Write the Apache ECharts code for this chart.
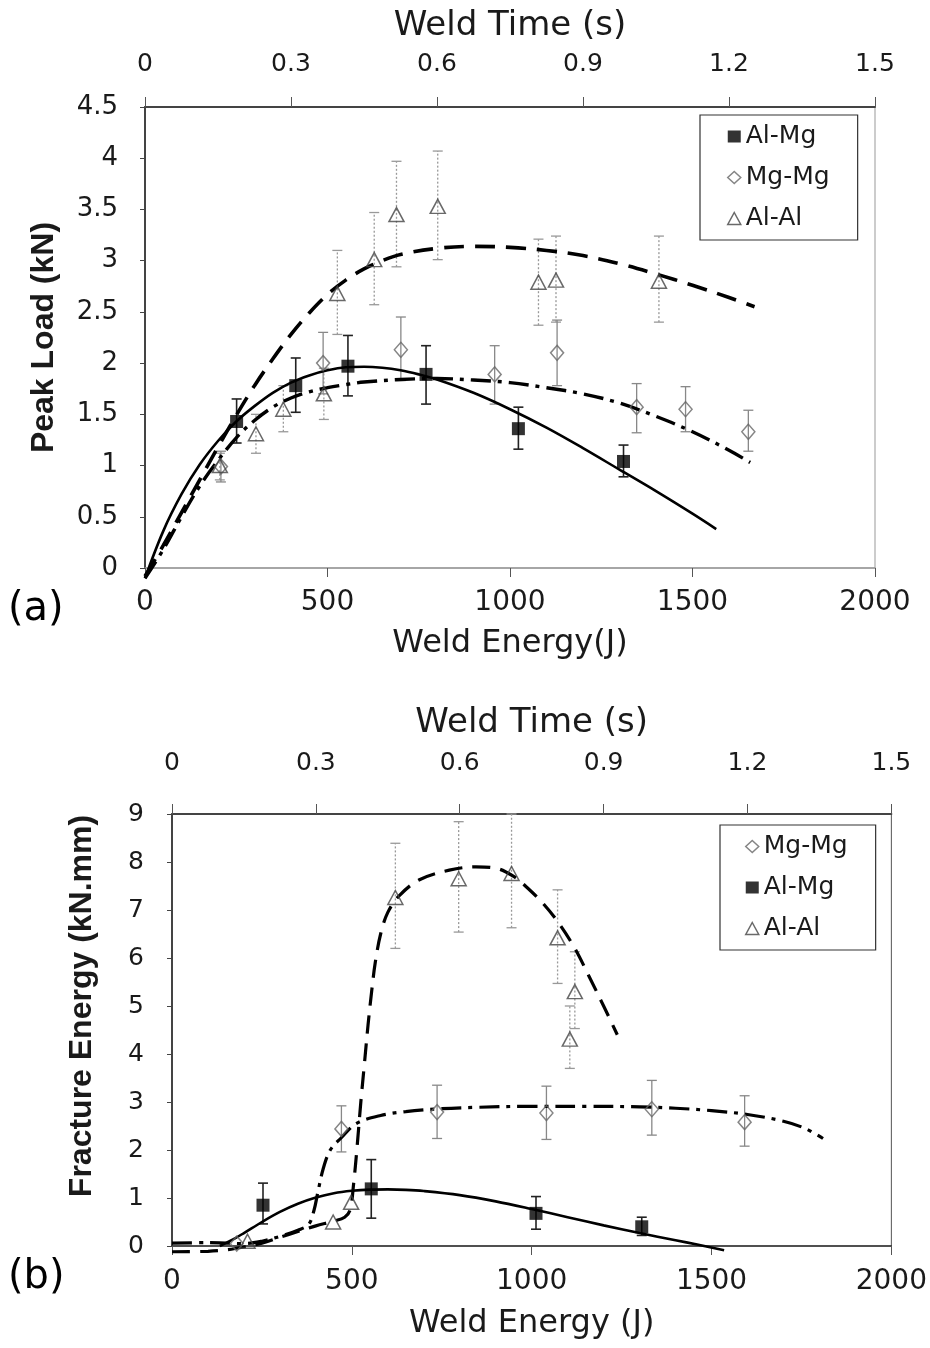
<!DOCTYPE html>
<html><head><meta charset="utf-8">
<script src="https://cdn.jsdelivr.net/npm/echarts@6/dist/echarts.min.js"></script>
<style>html,body{margin:0;padding:0;background:#fff}#c{width:930px;height:1348px}</style>
</head><body><div id="c"></div>
<script>
// ---------- Panel (a): Peak Load ----------
const almgA_E  = [251, 413, 556, 770, 1023, 1311];
const almgA_y  = [1.43, 1.78, 1.97, 1.89, 1.36, 1.04];
const almgA_lo = [1.22, 1.52, 1.68, 1.60, 1.16, 0.89];
const almgA_hi = [1.65, 2.05, 2.27, 2.17, 1.57, 1.20];

const mgmgA_E  = [208, 488, 701, 958, 1129, 1347, 1481, 1653];
const mgmgA_y  = [0.99, 2.00, 2.13, 1.89, 2.10, 1.57, 1.55, 1.33];
const mgmgA_lo = [0.84, 1.70, 1.83, 1.60, 1.78, 1.32, 1.33, 1.14];
const mgmgA_hi = [1.14, 2.30, 2.45, 2.17, 2.42, 1.80, 1.77, 1.54];

const alalA_E  = [205, 304, 379, 490, 527, 628, 689, 802, 1078, 1126, 1408];
const alalA_y  = [1.00, 1.31, 1.55, 1.70, 2.68, 3.01, 3.45, 3.53, 2.79, 2.81, 2.80];
const alalA_lo = [0.86, 1.12, 1.33, 1.45, 2.28, 2.57, 2.94, 3.01, 2.37, 2.40, 2.40];
const alalA_hi = [1.12, 1.50, 1.78, 1.95, 3.10, 3.47, 3.97, 4.07, 3.21, 3.24, 3.24];

const fitA_almg_E = [0,50,100,150,200,250,300,350,400,450,500,550,600,650,700,750,800,900,1000,1100,1200,1300,1400,1500,1565];
const fitA_almg_y = [-0.10,0.36,0.72,1.01,1.24,1.43,1.58,1.71,1.81,1.88,1.93,1.96,1.965,1.955,1.93,1.89,1.84,1.71,1.55,1.37,1.17,0.96,0.75,0.53,0.38];
const fitA_mgmg_E = [0,50,100,150,200,250,300,350,400,450,500,550,600,700,800,900,1000,1100,1200,1300,1400,1500,1600,1658];
const fitA_mgmg_y = [-0.10,0.18,0.50,0.80,1.05,1.27,1.44,1.57,1.66,1.72,1.76,1.79,1.815,1.84,1.85,1.835,1.81,1.76,1.70,1.61,1.48,1.33,1.15,1.03];
const fitA_alal_E = [0,50,100,150,200,250,300,350,400,450,500,550,600,650,700,800,900,1000,1100,1200,1300,1400,1500,1600,1670];
const fitA_alal_y = [-0.08,0.22,0.54,0.86,1.18,1.49,1.78,2.04,2.28,2.49,2.67,2.81,2.92,3.00,3.06,3.12,3.14,3.13,3.10,3.05,2.97,2.87,2.76,2.64,2.55];

// ---------- Panel (b): Fracture Energy ----------
const almgB_E  = [253, 554, 1012, 1306];
const almgB_y  = [0.85, 1.19, 0.68, 0.40];
const almgB_lo = [0.46, 0.58, 0.35, 0.22];
const almgB_hi = [1.31, 1.80, 1.03, 0.60];

const mgmgB_E  = [180, 471, 737, 1041, 1334, 1592];
const mgmgB_y  = [0.05, 2.44, 2.79, 2.77, 2.85, 2.58];
const mgmgB_lo = [null, 1.96, 2.24, 2.22, 2.31, 2.08];
const mgmgB_hi = [null, 2.92, 3.35, 3.33, 3.45, 3.13];

const alalB_E  = [210, 448, 498, 621, 797, 944, 1072, 1106, 1120];
const alalB_y  = [0.10, 0.50, 0.91, 7.26, 7.65, 7.76, 6.42, 4.31, 5.30];
const alalB_lo = [null, null, null, 6.20, 6.54, 6.63, 5.47, 3.70, 4.53];
const alalB_hi = [null, null, null, 8.39, 8.84, 9.00, 7.42, 5.00, 6.13];

const fitB_almg_E = [133,175,200,250,300,350,400,450,500,550,600,650,700,800,900,1000,1100,1200,1300,1400,1460,1535];
const fitB_almg_y = [0,0.16,0.27,0.50,0.71,0.88,1.01,1.10,1.15,1.175,1.18,1.17,1.145,1.06,0.93,0.77,0.60,0.43,0.27,0.12,0.03,-0.09];
const fitB_mgmg_E = [0,100,150,200,250,300,350,380,395,405,420,440,470,512,580,650,750,850,1000,1150,1300,1400,1500,1600,1700,1760,1810];
const fitB_mgmg_y = [0.06,0.07,0.06,0.05,0.1,0.2,0.33,0.45,0.75,1.1,1.6,2.0,2.25,2.55,2.72,2.8,2.86,2.89,2.91,2.91,2.9,2.87,2.82,2.74,2.6,2.45,2.24];
const fitB_alal_E = [0,100,150,200,250,300,350,400,450,480,495,505,515,525,535,545,555,565,580,600,632,688,771,845,901,950,984,1030,1076,1120,1160,1200,1238];
const fitB_alal_y = [-0.12,-0.11,-0.08,-0.02,0.06,0.18,0.3,0.42,0.52,0.6,0.75,1.3,2.1,3.0,3.8,4.6,5.3,5.9,6.5,6.95,7.3,7.63,7.83,7.9,7.87,7.7,7.49,7.15,6.72,6.2,5.61,5.0,4.4];

// ---------- helpers ----------
const zip = (a, b) => a.map((v, i) => [v, b[i]]);
const FONT = 'DejaVu Sans';
const TXT = '#1a1a1a';

function errSeries(xi, yi, E, lo, hi, color, width, dash) {
  const data = [];
  E.forEach((e, i) => { if (lo[i] != null && hi[i] != null) data.push([e, lo[i], hi[i]]); });
  return {
    type: 'custom', xAxisIndex: xi, yAxisIndex: yi, silent: true, z: 2, clip: false,
    data, encode: { x: 0, y: [1, 2] },
    renderItem: (params, api) => {
      const x = api.value(0);
      const a = api.coord([x, api.value(1)]);
      const b = api.coord([x, api.value(2)]);
      const c = 5;
      return { type: 'group', children: [
        { type: 'line', shape: { x1: a[0], y1: a[1], x2: b[0], y2: b[1] }, style: { stroke: color, lineWidth: width, lineDash: dash } },
        { type: 'line', shape: { x1: a[0] - c, y1: a[1], x2: a[0] + c, y2: a[1] }, style: { stroke: color, lineWidth: width } },
        { type: 'line', shape: { x1: b[0] - c, y1: b[1], x2: b[0] + c, y2: b[1] }, style: { stroke: color, lineWidth: width } }
      ]};
    }
  };
}
function fitSeries(xi, yi, E, y, dash, width) {
  return { type: 'line', xAxisIndex: xi, yAxisIndex: yi, data: zip(E, y), showSymbol: false,
    smooth: 0.35,
    clip: false, silent: true, z: 3,
    lineStyle: { color: '#000', width: width, type: dash } };
}
const symAlMg = { symbol: 'rect', symbolSize: 13, itemStyle: { color: '#000' } };
const symMgMg = { symbol: 'diamond', symbolSize: [13, 15], itemStyle: { color: 'rgba(255,255,255,0)', borderColor: '#666', borderWidth: 1.5 } };
const symAlAl = { symbol: 'triangle', symbolSize: [15, 14], itemStyle: { color: 'rgba(255,255,255,0)', borderColor: '#444', borderWidth: 1.5 } };
function scat(name, xi, yi, E, y, sym) {
  return Object.assign({ type: 'scatter', name, xAxisIndex: xi, yAxisIndex: yi, data: zip(E, y), z: 4, clip: false, silent: true }, sym);
}
const timeFmt = v => String(Math.round(v * 10) / 10);
const plainFmt = v => String(v);

const chart = echarts.init(document.getElementById('c'), null, { renderer: 'canvas' });
chart.setOption({
  animation: false,
  backgroundColor: '#fff',
  grid: [
    { left: 145, top: 107, width: 730, height: 461, show: true, borderColor: '#999', borderWidth: 1 },
    { left: 172, top: 814, width: 722, height: 432, show: true, borderColor: '#555', borderWidth: 1 }
  ],
  xAxis: [
    { gridIndex: 0, type: 'value', position: 'bottom', min: 0, max: 2000, interval: 500,
      name: 'Weld Energy(J)', nameLocation: 'middle', nameGap: 60,
      nameTextStyle: { fontFamily: FONT, fontSize: 32, color: TXT },
      axisLine: { lineStyle: { color: '#999', width: 1.5 } }, axisTick: { length: 9, lineStyle: { color: '#555' } },
      axisLabel: { margin: 21, fontFamily: FONT, fontSize: 28, color: TXT, formatter: plainFmt }, splitLine: { show: false } },
    { gridIndex: 0, type: 'value', position: 'top', min: 0, max: 1.5, interval: 0.3,
      name: 'Weld Time (s)', nameLocation: 'middle', nameGap: 64,
      nameTextStyle: { fontFamily: FONT, fontSize: 34, color: TXT },
      axisLine: { lineStyle: { color: '#444', width: 2 } }, axisTick: { length: 10, lineStyle: { color: '#555' } },
      axisLabel: { margin: 30, fontFamily: FONT, fontSize: 25, color: TXT, formatter: timeFmt }, splitLine: { show: false } },
    { gridIndex: 1, type: 'value', position: 'bottom', min: 0, max: 2000, interval: 500,
      name: 'Weld Energy (J)', nameLocation: 'middle', nameGap: 62,
      nameTextStyle: { fontFamily: FONT, fontSize: 32, color: TXT },
      axisLine: { lineStyle: { color: '#333', width: 1.5 } }, axisTick: { length: 9, lineStyle: { color: '#555' } },
      axisLabel: { margin: 22, fontFamily: FONT, fontSize: 28, color: TXT, formatter: plainFmt }, splitLine: { show: false } },
    { gridIndex: 1, type: 'value', position: 'top', min: 0, max: 1.5, interval: 0.3,
      name: 'Weld Time (s)', nameLocation: 'middle', nameGap: 74,
      nameTextStyle: { fontFamily: FONT, fontSize: 34, color: TXT },
      axisLine: { lineStyle: { color: '#444', width: 2 } }, axisTick: { length: 10, lineStyle: { color: '#555' } },
      axisLabel: { margin: 38, fontFamily: FONT, fontSize: 25, color: TXT, formatter: timeFmt }, splitLine: { show: false } }
  ],
  yAxis: [
    { gridIndex: 0, type: 'value', min: 0, max: 4.5, interval: 0.5,
      name: 'Peak Load (kN)', nameLocation: 'middle', nameGap: 85, nameRotate: 90,
      nameTextStyle: { fontFamily: 'Liberation Sans', fontWeight: 'bold', fontSize: 32, color: TXT },
      axisLine: { show: true, lineStyle: { color: '#444', width: 2 } }, axisTick: { show: true, length: 5, lineStyle: { color: '#444' } },
      axisLabel: { margin: 27, fontFamily: FONT, fontSize: 26, color: TXT }, splitLine: { show: false } },
    { gridIndex: 1, type: 'value', min: 0, max: 9, interval: 1,
      name: 'Fracture Energy (kN.mm)', nameLocation: 'middle', nameGap: 74, nameRotate: 90,
      nameTextStyle: { fontFamily: 'Liberation Sans', fontWeight: 'bold', fontSize: 32, color: TXT, padding: [0, 0, 0, 48] },
      axisLine: { show: true, lineStyle: { color: '#444', width: 2 } }, axisTick: { show: true, length: 5, lineStyle: { color: '#444' } },
      axisLabel: { margin: 28, fontFamily: FONT, fontSize: 25, color: TXT }, splitLine: { show: false } }
  ],
  legend: [
    { left: 700, top: 115, orient: 'vertical', selectedMode: false, borderColor: '#333', borderWidth: 1.2,
      padding: [9, 28, 9, 27], itemGap: 16, itemWidth: 13, itemHeight: 12,
      textStyle: { fontFamily: FONT, fontSize: 25, color: TXT },
      data: [
        { name: 'Al-Mg', icon: 'rect', itemStyle: { color: '#000' } },
        { name: 'Mg-Mg', icon: 'diamond', itemStyle: { color: '#fff', borderColor: '#666', borderWidth: 1.5 } },
        { name: 'Al-Al', icon: 'triangle', itemStyle: { color: '#fff', borderColor: '#444', borderWidth: 1.5 } }
      ] },
    { left: 720, top: 825, orient: 'vertical', selectedMode: false, borderColor: '#333', borderWidth: 1.2,
      padding: [9, 28, 9, 25], itemGap: 16, itemWidth: 13, itemHeight: 12,
      textStyle: { fontFamily: FONT, fontSize: 25, color: TXT },
      data: [
        { name: 'Mg-Mg', icon: 'diamond', itemStyle: { color: '#fff', borderColor: '#666', borderWidth: 1.5 } },
        { name: 'Al-Mg', icon: 'rect', itemStyle: { color: '#000' } },
        { name: 'Al-Al', icon: 'triangle', itemStyle: { color: '#fff', borderColor: '#444', borderWidth: 1.5 } }
      ] }
  ],
  graphic: [
    { type: 'text', left: 8, top: 590, style: { text: '(a)', font: '40px "DejaVu Sans"', fill: '#000' } },
    { type: 'text', left: 8, top: 1258, style: { text: '(b)', font: '40px "DejaVu Sans"', fill: '#000' } }
  ],
  series: [
    // panel a
    errSeries(0, 0, alalA_E, alalA_lo, alalA_hi, '#999', 1.3, [2, 2]),
    errSeries(0, 0, mgmgA_E, mgmgA_lo, mgmgA_hi, '#888', 1.3, null),
    errSeries(0, 0, almgA_E, almgA_lo, almgA_hi, '#222', 1.6, null),
    fitSeries(0, 0, fitA_alal_E, fitA_alal_y, [20, 11], 3.6),
    fitSeries(0, 0, fitA_mgmg_E, fitA_mgmg_y, [20, 7, 4, 7], 3.4),
    fitSeries(0, 0, fitA_almg_E, fitA_almg_y, 'solid', 2.6),
    scat('Al-Mg', 0, 0, almgA_E, almgA_y, symAlMg),
    scat('Mg-Mg', 0, 0, mgmgA_E, mgmgA_y, symMgMg),
    scat('Al-Al', 0, 0, alalA_E, alalA_y, symAlAl),
    // panel b
    errSeries(2, 1, alalB_E, alalB_lo, alalB_hi, '#999', 1.3, [2, 2]),
    errSeries(2, 1, mgmgB_E, mgmgB_lo, mgmgB_hi, '#888', 1.3, null),
    errSeries(2, 1, almgB_E, almgB_lo, almgB_hi, '#222', 1.6, null),
    fitSeries(2, 1, fitB_alal_E, fitB_alal_y, [18, 10], 3.2),
    fitSeries(2, 1, fitB_mgmg_E, fitB_mgmg_y, [20, 7, 4, 7], 3.2),
    fitSeries(2, 1, fitB_almg_E, fitB_almg_y, 'solid', 2.6),
    scat('Mg-Mg', 2, 1, mgmgB_E, mgmgB_y, symMgMg),
    scat('Al-Mg', 2, 1, almgB_E, almgB_y, symAlMg),
    scat('Al-Al', 2, 1, alalB_E, alalB_y, symAlAl)
  ]
});
</script></body></html>
